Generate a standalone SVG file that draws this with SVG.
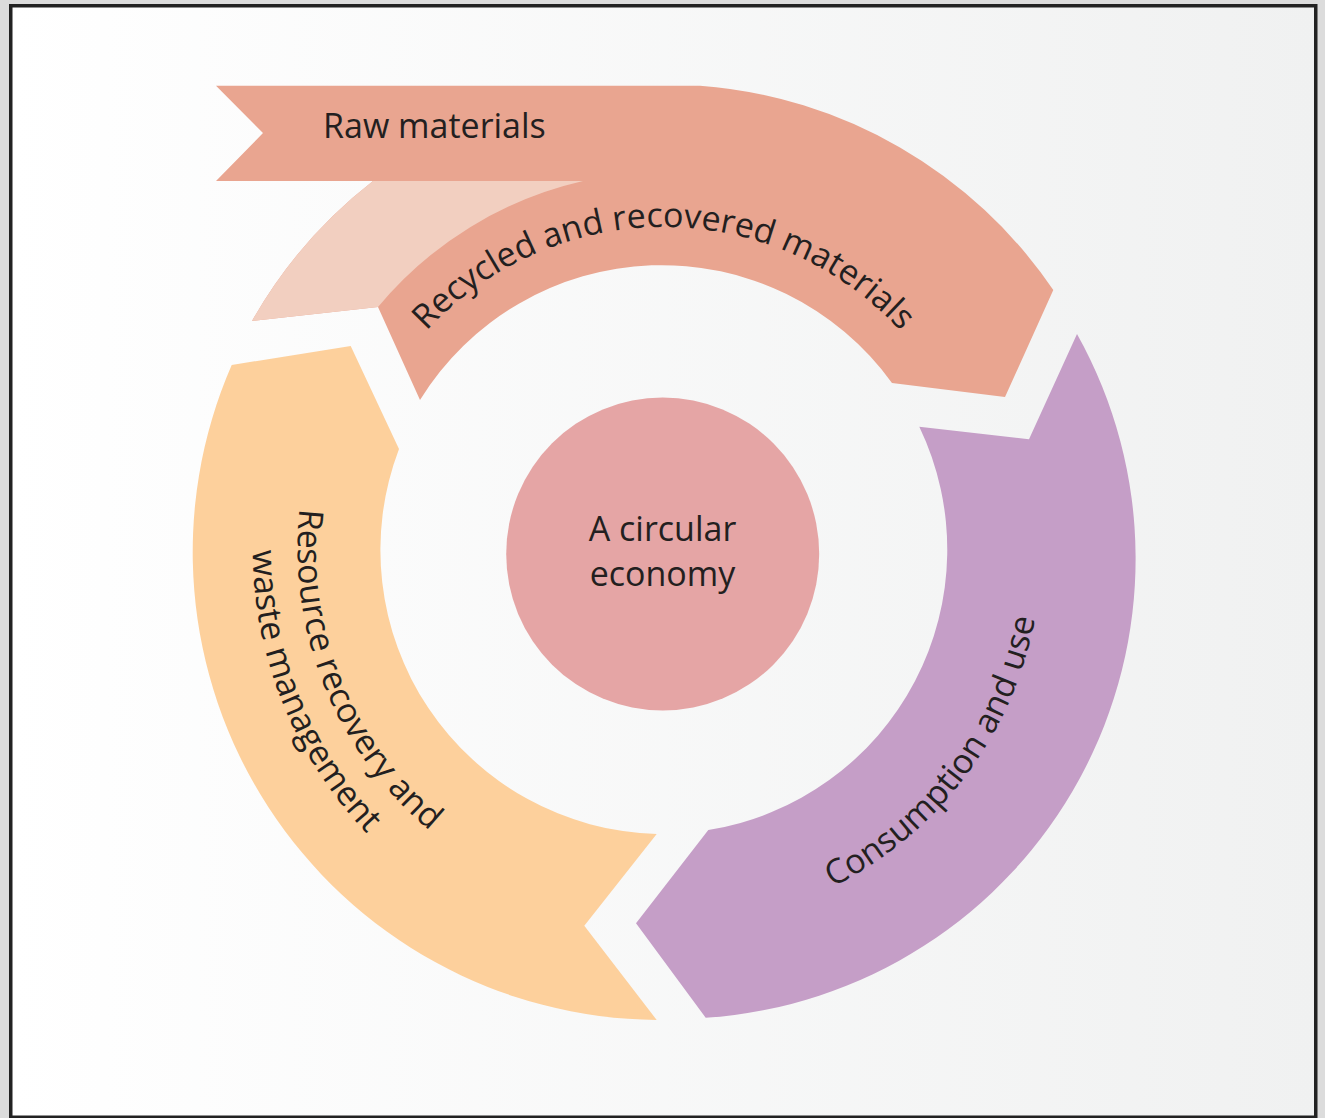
<svg xmlns="http://www.w3.org/2000/svg" width="1325" height="1118" viewBox="0 0 1325 1118">
  <defs>
    <linearGradient id="paper" x1="0" y1="0" x2="1" y2="0">
      <stop offset="0" stop-color="#ffffff"/>
      <stop offset="1" stop-color="#f0f1f1"/>
    </linearGradient>
    <!-- baselines for the curved labels (ring centre 663.5,549) -->
    <path id="arc-recycled" d="M 341.5,549 A 322 322 0 0 1 985.5,549"/>
    <path id="arc-consumption" d="M 716.1,923.3 A 378 378 0 0 0 1037.8,496.4"/>
    <path id="arc-resource-1" d="M 326.6,406 A 366 366 0 0 0 520.5,885.9"/>
    <path id="arc-resource-2" d="M 285.3,388.4 A 411 411 0 0 0 502.9,927.3"/>
  </defs>
  <style>
    .label { font-family: "Open Sans", "Noto Sans", "Liberation Sans", sans-serif; font-size: 34px; fill: #231f20; }
    .salmon { fill: #e9a590; }
    .pale { fill: #f2cfc0; }
    .orange { fill: #fdd09c; }
    .purple { fill: #c59ec7; }
    .hub { fill: #e5a5a5; }
  </style>

  <!-- page and frame -->
  <rect x="0" y="0" width="1325" height="1118" fill="#dcdcdc"/>
  <rect x="10.75" y="5.75" width="1305" height="1111.5" fill="url(#paper)" stroke="#222222" stroke-width="3.5"/>

  <g id="connectors"/>

  <!-- raw materials feeding the recycled band -->
  <g id="recycled-materials">
    <path class="salmon" d="M 216,85.7 L 700,85.7 A 470 470 0 0 1 1053.3,290 L 1005,397 L 892,383 A 284 284 0 0 0 420,400 L 378,307 L 252,321 A 470 470 0 0 1 373,181 L 216,181 L 263,133 Z"/>
    <path class="pale" d="M 252,321 A 470 470 0 0 1 373,181 L 583,181 A 376 376 0 0 0 378,307 Z"/>
    <text class="label"><textPath href="#arc-recycled" startOffset="50%" text-anchor="middle">Recycled and recovered materials</textPath></text>
  </g>

  <g id="raw-materials">
    <text class="label" x="323" y="138.3">Raw materials</text>
  </g>

  <!-- consumption and use -->
  <g id="consumption">
    <path class="purple" d="M 1077,334 A 460 460 0 0 1 705.7,1017.7 L 636,923.3 L 708.3,830 A 284 284 0 0 0 919.3,426.7 L 1029,439.3 Z"/>
    <text class="label"><textPath href="#arc-consumption" startOffset="50%" text-anchor="middle">Consumption and use</textPath></text>
  </g>

  <!-- resource recovery and waste management -->
  <g id="resource-recovery">
    <path class="orange" d="M 656.7,1020 A 468 468 0 0 1 231.7,365 L 350.7,346 L 399,449 A 284 284 0 0 0 656.7,834 L 584.3,925.7 Z"/>
    <text class="label"><textPath href="#arc-resource-1" startOffset="50%" text-anchor="middle">Resource recovery and</textPath></text>
    <text class="label"><textPath href="#arc-resource-2" startOffset="50%" text-anchor="middle">waste management</textPath></text>
  </g>

  <!-- hub -->
  <g id="circular-economy">
    <circle class="hub" cx="662.7" cy="554" r="156.5"/>
    <text class="label" text-anchor="middle"><tspan x="662.5" y="541">A circular</tspan><tspan x="662.5" y="586">economy</tspan></text>
  </g>
</svg>
